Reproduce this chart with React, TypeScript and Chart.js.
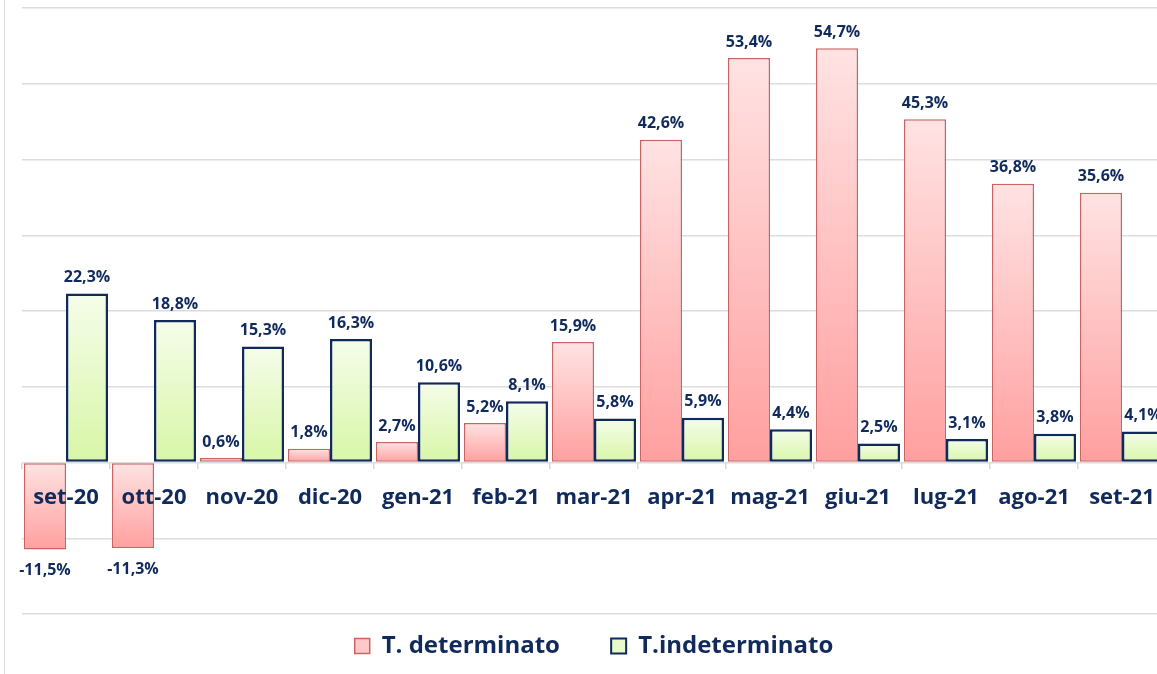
import React, { useEffect, useRef } from "react";
import { Chart, registerables } from "chart.js";

Chart.register(...registerables);

const categories = ["set-20", "ott-20", "nov-20", "dic-20", "gen-21", "feb-21", "mar-21", "apr-21", "mag-21", "giu-21", "lug-21", "ago-21", "set-21"];
const determinato = [-11.5, -11.3, 0.6, 1.8, 2.7, 5.2, 15.9, 42.6, 53.4, 54.7, 45.3, 36.8, 35.6];
const indeterminato = [22.3, 18.8, 15.3, 16.3, 10.6, 8.1, 5.8, 5.9, 4.4, 2.5, 3.1, 3.8, 4.1];
const seriesNames = ["T. determinato", "T.indeterminato"];

const NAVY = "#102a5c";
const FONT = "'Open Sans', 'DejaVu Sans', sans-serif";

function gradientFill(top: string, bottom: string) {
  return (ctx: any) => {
    const chart = ctx.chart;
    if (!chart.chartArea || ctx.type !== "data") return top;
    const ys = chart.scales.y;
    const v = ctx.raw as number;
    const p0 = ys.getPixelForValue(0);
    const p1 = ys.getPixelForValue(v);
    const a = Math.min(p0, p1);
    let b = Math.max(p0, p1);
    if (b - a < 1) b = a + 1;
    const g = chart.ctx.createLinearGradient(0, a, 0, b);
    g.addColorStop(0, top);
    g.addColorStop(1, bottom);
    return g;
  };
}

const fmt = (v: number) => v.toFixed(1).replace(".", ",") + "%";

const valueLabels = {
  id: "valueLabels",
  afterDatasetsDraw(chart: any) {
    const c = chart.ctx;
    c.save();
    c.font = `bold 16px ${FONT}`;
    c.fillStyle = NAVY;
    c.textAlign = "center";
    c.textBaseline = "middle";
    chart.data.datasets.forEach((ds: any, di: number) => {
      const meta = chart.getDatasetMeta(di);
      meta.data.forEach((el: any, i: number) => {
        const v = ds.data[i] as number;
        const y = v >= 0 ? el.y - 16 : el.y + 21;
        c.fillText(fmt(v), el.x, y);
      });
    });
    c.restore();
  },
};

export default function App() {
  const ref = useRef<HTMLCanvasElement | null>(null);

  useEffect(() => {
    document.body.style.margin = "0";
    document.body.style.overflow = "hidden";
    const canvas = ref.current;
    if (!canvas) return;
    const chart = new Chart(canvas, {
      type: "bar",
      data: {
        labels: categories,
        datasets: [
          {
            label: seriesNames[0],
            data: determinato,
            backgroundColor: gradientFill("#ffe3e3", "#ff9f9f"),
            borderColor: "#cc6363",
            borderWidth: 1.5,
            borderSkipped: false,
            categoryPercentage: 0.955,
            barPercentage: 1,
          },
          {
            label: seriesNames[1],
            data: indeterminato,
            backgroundColor: gradientFill("#f5fdea", "#d8f6a6"),
            borderColor: NAVY,
            borderWidth: 2.5,
            borderSkipped: false,
            categoryPercentage: 0.955,
            barPercentage: 1,
          },
        ],
      },
      options: {
        responsive: false,
        animation: false,
        layout: { padding: { left: 22, right: 14, top: 8, bottom: 6 } },
        font: { family: FONT },
        scales: {
          x: {
            type: "category",
            position: { y: 0 } as any,
            grid: {
              display: true,
              drawOnChartArea: false,
              drawTicks: true,
              tickLength: 6,
              offset: true,
              color: "#d9d9d9",
              lineWidth: 1.5,
            },
            border: { display: false },
            ticks: {
              z: 1,
              color: NAVY,
              font: { family: FONT, size: 22, weight: "bold" },
              padding: 16,
              maxRotation: 0,
              autoSkip: false,
            },
          },
          y: {
            min: -20,
            max: 60,
            ticks: { display: false, stepSize: 10 },
            grid: { color: "#dcdcdc", lineWidth: 1.5, drawTicks: false },
            border: { display: false },
          },
        },
        plugins: {
          tooltip: { enabled: false },
          legend: {
            position: "bottom",
            labels: {
              color: NAVY,
              font: { family: FONT, size: 24, weight: "bold" },
              boxWidth: 15,
              boxHeight: 15,
              padding: 20,
              generateLabels: () => [
                {
                  text: seriesNames[0] + "     ",
                  fillStyle: "#ffc9c9",
                  strokeStyle: "#cc6363",
                  lineWidth: 1.5,
                  fontColor: NAVY,
                  datasetIndex: 0,
                  hidden: false,
                } as any,
                {
                  text: seriesNames[1],
                  fillStyle: "#e8fac8",
                  strokeStyle: NAVY,
                  lineWidth: 2,
                  fontColor: NAVY,
                  datasetIndex: 1,
                  hidden: false,
                } as any,
              ],
            },
          },
        },
      },
      plugins: [valueLabels],
    });
    return () => chart.destroy();
  }, []);

  return (
    <div style={{ position: "relative", width: 1180, height: 674, background: "#fff" }}>
      <canvas ref={ref} width={1180} height={674} style={{ position: "absolute", left: 0, top: 0 }} />
      <div style={{ position: "absolute", left: 4, top: 0, width: 1, height: 674, background: "#d9d9d9" }} />
    </div>
  );
}
